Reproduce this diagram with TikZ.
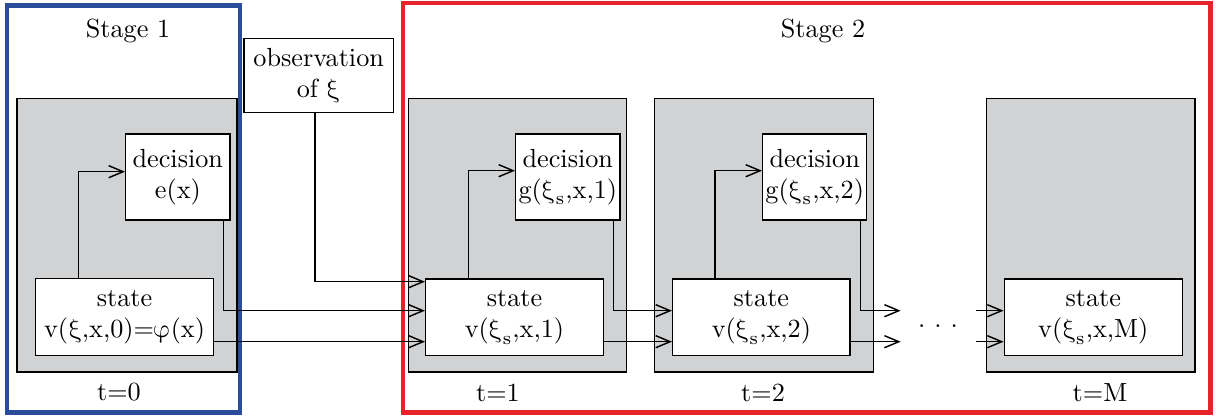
\documentclass[tikz,border=0pt]{standalone}
\usepackage{unicode-math}
\setmathfont{Latin Modern Math}
\usetikzlibrary{fit,arrows.meta}
\definecolor{frameblue}{RGB}{43,75,155}
\definecolor{framered}{RGB}{230,35,40}
\definecolor{boxgray}{RGB}{209,210,212}
\newcommand{\uxi}{\symup{\xi}}
\newcommand{\xis}{\symup{\xi}_{\mathrm{s}}}
\begin{document}
\begin{tikzpicture}[x=0.3817pt,y=-0.3817pt,
  period/.style={draw=black,fill=boxgray,line width=0.55pt,inner sep=0pt},
  box/.style={draw=black,fill=white,line width=0.55pt,inner sep=0pt,align=center},
  conn/.style={-{Straight Barb[length=5.5pt,width=4.6pt]},line width=0.55pt},
  stageframe/.style={line width=1.9pt}]
\useasboundingbox (0,0) rectangle (1219,419);

% stage frames
\node[stageframe,draw=frameblue,fit={(7,5.5) (240,412.5)},inner sep=0pt] (stage1) {};
\node[stageframe,draw=framered,fit={(403,3) (1210,412.5)},inner sep=0pt] (stage2) {};
\node (lab1) at (128,31) {Stage 1};
\node (lab2) at (823,31) {Stage 2};

% period boxes
\node[period,fit={(17,98.5) (237,372)}] (p0) {};
\node[period,fit={(408.3,98.5) (626.7,372)}] (p1) {};
\node[period,fit={(654.3,98.5) (873.3,372)}] (p2) {};
\node[period,fit={(986.7,98.5) (1195,372)}] (pM) {};

\node (t0) at (119,392) {t=0};
\node (t1) at (498,393) {t=1};
\node (t2) at (763,393) {t=2};
\node (tM) at (1100,393) {t=M};

% observation
\node[box,fit={(244,38.3) (393.3,112.7)}] (obs) {};
\node[align=center] (obstext) at (obs.center) {observation\\of $\uxi$};

% decisions
\node[box,fit={(125.7,134) (230,220)}] (d0) {};
\node[align=center] at (d0.center) {decision\\e(x)};
\node[box,fit={(515.7,134) (620,220)}] (d1) {};
\node[align=center,inner sep=0pt] at (d1.center) {decision\\g($\xis$,x,1)};
\node[box,fit={(762.7,134) (866.7,220)}] (d2) {};
\node[align=center,inner sep=0pt] at (d2.center) {decision\\g($\xis$,x,2)};

% states
\node[box,fit={(35.7,278.5) (213.3,355.7)}] (s0) {};
\node[align=center] at (s0.center) {state\\v($\uxi$,x,0)=$\symup{\varphi}$(x)};
\node[box,fit={(425.7,279) (603.3,355.7)}] (s1) {};
\node[align=center] at (s1.center) {state\\v($\xis$,x,1)};
\node[box,fit={(672.7,279) (850,355.7)}] (s2) {};
\node[align=center] at (s2.center) {state\\v($\xis$,x,2)};
\node[box,fit={(1004.3,279) (1182.3,355.7)}] (sM) {};
\node[align=center] at (sM.center) {state\\v($\xis$,x,M)};

\node[anchor=base,inner sep=0pt] (dots) at (938,328) {.\hspace{3.4pt}.\hspace{3.4pt}.};

% helper coordinates
\coordinate (up0) at (78.7,171.7);
\coordinate (up1) at (468.3,170.7);
\coordinate (up2) at (715,170.7);
\coordinate (dn0) at (223.3,311.7);
\coordinate (dn1) at (613.3,310.7);
\coordinate (dn2) at (860.7,310.7);
\coordinate (obsx) at (315,0);
\coordinate (rowA) at (0,281.7);
\coordinate (rowB) at (0,310.7);
\coordinate (rowC) at (0,341.7);
\coordinate (endB) at (900.7,310.7);
\coordinate (endC) at (900.7,341.7);
\coordinate (startB) at (976,310.7);
\coordinate (startC) at (976,341.7);

% connectors
\draw[conn] (s0.north -| up0) |- (d0.west |- up0);
\draw[conn] (s1.north -| up1) |- (d1.west |- up1);
\draw[conn] (s2.north -| up2) |- (d2.west |- up2);

\draw[conn] (obs.south -| obsx) |- (s1.west |- rowA);
\draw[conn] (d0.south -| dn0) |- (s1.west |- rowB);
\draw[conn] (s0.east |- rowC) -- (s1.west |- rowC);

\draw[conn] (d1.south -| dn1) |- (s2.west |- rowB);
\draw[conn] (s1.east |- rowC) -- (s2.west |- rowC);

\draw[conn] (d2.south -| dn2) |- (endB);
\draw[conn] (s2.east |- rowC) -- (endC);
\draw[conn] (startB) -- (sM.west |- startB);
\draw[conn] (startC) -- (sM.west |- startC);
\end{tikzpicture}
\end{document}
